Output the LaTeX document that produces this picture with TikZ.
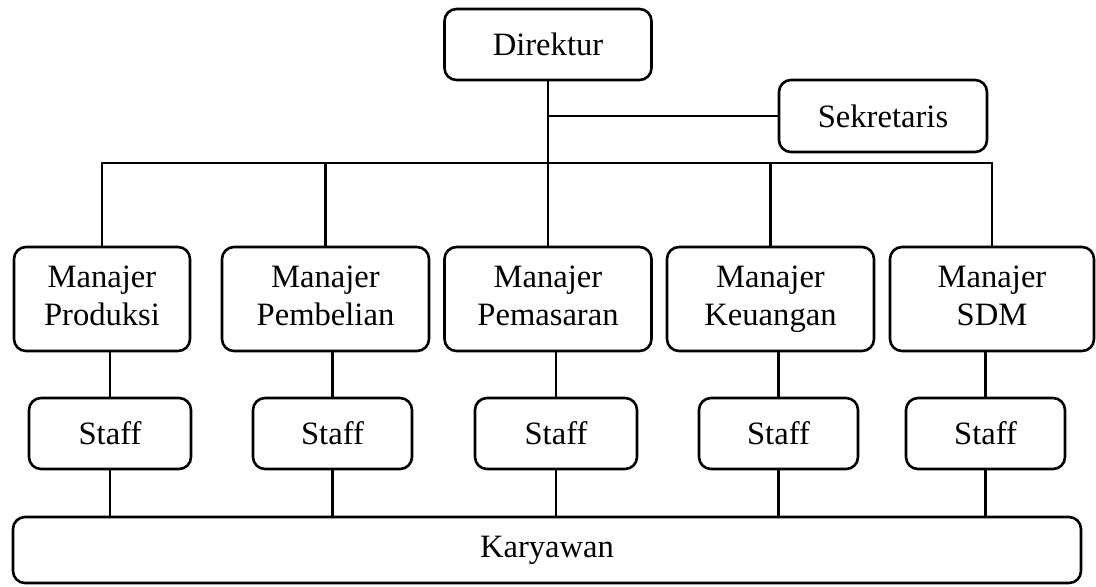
\documentclass[tikz,border=0pt]{standalone}
\usepackage{fontspec}
\setmainfont{Liberation Serif}
\newcommand{\twol}[2]{#1\strut\\#2\strut}
\begin{document}
\begin{tikzpicture}[x=0.5pt,y=-0.5pt,
  box/.style={draw=black, line width=1.3pt, rounded corners=6pt, inner sep=0pt,
    align=center, font=\fontsize{16.3}{19}\selectfont, fill=white},
  conn/.style={draw=black, line width=1.3pt}]
\useasboundingbox (0,0) rectangle (1096,586);
% top
\node[box, minimum width=103.5pt, minimum height=35.5pt] (dir) at (548,44.5) {Direktur};
\node[box, minimum width=104pt, minimum height=36pt] (sek) at (883,116) {Sekretaris};
% managers
\node[box, minimum width=88pt, minimum height=52pt] (prod) at (102,299) {\twol{Manajer}{Produksi}};
\node[box, minimum width=103.5pt, minimum height=52pt] (pemb) at (325.5,299) {\twol{Manajer}{Pembelian}};
\node[box, minimum width=103.5pt, minimum height=52pt] (pems) at (548,299) {\twol{Manajer}{Pemasaran}};
\node[box, minimum width=103.5pt, minimum height=52pt] (keu) at (770.5,299) {\twol{Manajer}{Keuangan}};
\node[box, minimum width=102pt, minimum height=52pt] (sdm) at (992,299) {\twol{Manajer}{SDM}};
% staff
\node[box, minimum width=81pt, minimum height=35.5pt] (s1) at (110,433.5) {Staff};
\node[box, minimum width=79.5pt, minimum height=35.5pt] (s2) at (332.5,433.5) {Staff};
\node[box, minimum width=81pt, minimum height=35.5pt] (s3) at (556,433.5) {Staff};
\node[box, minimum width=79.5pt, minimum height=35.5pt] (s4) at (778.5,433.5) {Staff};
\node[box, minimum width=79.5pt, minimum height=35.5pt] (s5) at (985.5,433.5) {Staff};
% karyawan
\node[box, minimum width=534pt, minimum height=33pt] (kar) at (547,550) {Karyawan};
% connectors
\coordinate (bus) at (548,163);
\draw[conn] (dir.south) -- (pems.north);
\draw[conn] (dir.south |- sek.west) -- (sek.west);
\draw[conn] (prod.north) |- (bus) -| (sdm.north);
\draw[conn] (pemb.north) -- (pemb.north |- bus);
\draw[conn] (keu.north) -- (keu.north |- bus);
\foreach \s/\m in {s1/prod, s2/pemb, s3/pems, s4/keu, s5/sdm}{
  \draw[conn] (\s.north) -- (\s.north |- \m.south);
  \draw[conn] (\s.south) -- (\s.south |- kar.north);
}
\end{tikzpicture}
\end{document}
